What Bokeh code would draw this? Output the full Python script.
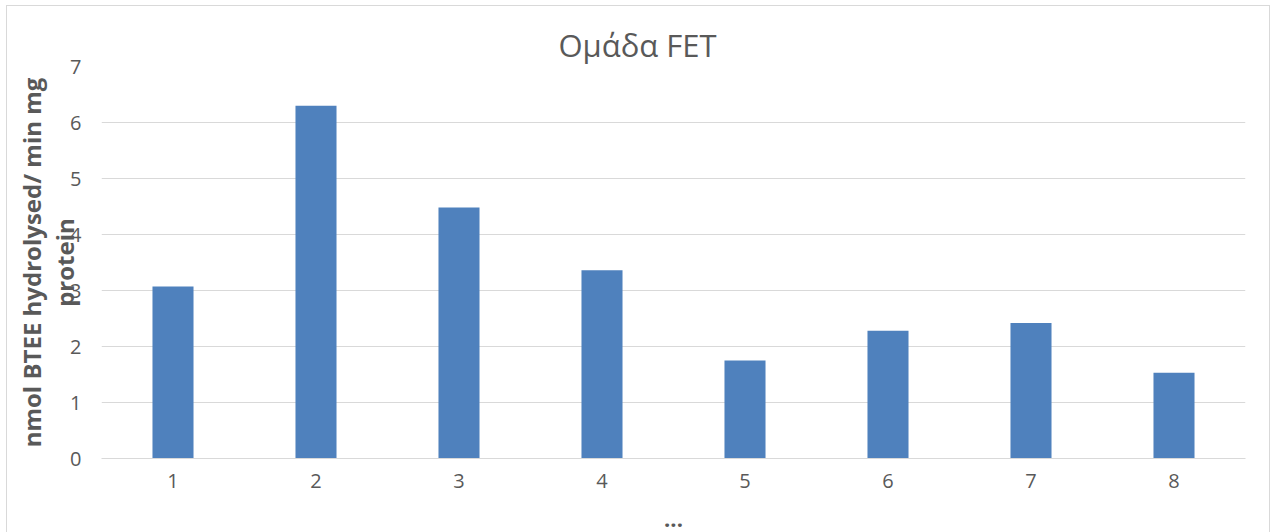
from bokeh.plotting import figure
from bokeh.models import Range1d, FixedTicker
from bokeh.embed import file_html
from bokeh.resources import INLINE

# Data
categories = ["1", "2", "3", "4", "5", "6", "7", "8"]
values = [3.07, 6.30, 4.48, 3.36, 1.75, 2.28, 2.42, 1.53]
y_ticks = [0, 1, 2, 3, 4, 5, 6, 7]

title_text = "Ομάδα FET"
y_label_lines = ["nmol BTEE hydrolysed/ min mg", "protein"]
x_label_text = "..."

TEXT = "#595959"
GRID = "#d9d9d9"
BAR = "#4f81bd"
FONT = "Open Sans"

xs = [i + 0.5 for i in range(len(categories))]

W, H = 1264, 540
p = figure(
    width=W, height=H,
    x_range=Range1d(0, len(categories)), y_range=Range1d(0, 7),
    output_backend="svg", toolbar_location=None,
    min_border_left=94, min_border_right=26, min_border_top=60, min_border_bottom=88,
    background_fill_color="white", border_fill_color="white",
    margin=(5, 0, 0, 6),
    styles={"border": "1px solid #d9d9d9"},
)
p.outline_line_color = None

p.vbar(x=xs, top=values, bottom=0, width=0.287, fill_color=BAR, line_color=None)

# Title, centred on the whole chart rather than the plot area
p.title.text = title_text
p.title.align = "left"
p.title.offset = 457
p.title.standoff = 2
p.title.text_font = FONT
p.title.text_font_size = "31px"
p.title.text_font_style = "normal"
p.title.text_color = TEXT

# X axis
p.xaxis.ticker = FixedTicker(ticks=xs)
p.xaxis.major_label_overrides = {x: c for x, c in zip(xs, categories)}
p.xaxis.axis_line_color = GRID
p.xaxis.major_tick_line_color = None
p.xaxis.minor_tick_line_color = None
p.xaxis.major_tick_out = 0
p.xaxis.minor_tick_out = 0
p.xaxis.major_label_text_font = FONT
p.xaxis.major_label_text_font_size = "20px"
p.xaxis.major_label_text_color = TEXT
p.xaxis.major_label_standoff = 15
p.xaxis.axis_label = x_label_text
p.xaxis.axis_label_text_font = FONT
p.xaxis.axis_label_text_font_size = "22px"
p.xaxis.axis_label_text_font_style = "bold"
p.xaxis.axis_label_text_color = TEXT
p.xaxis.axis_label_standoff = 21

# Y axis
p.yaxis.ticker = FixedTicker(ticks=y_ticks)
p.yaxis.axis_line_color = None
p.yaxis.major_tick_line_color = None
p.yaxis.minor_tick_line_color = None
p.yaxis.major_tick_out = 0
p.yaxis.minor_tick_out = 0
p.yaxis.major_label_text_font = FONT
p.yaxis.major_label_text_font_size = "20px"
p.yaxis.major_label_text_color = TEXT
p.yaxis.major_label_standoff = 20
p.yaxis.axis_label = "\n".join(y_label_lines)
p.yaxis.axis_label_text_font = FONT
p.yaxis.axis_label_text_font_size = "24px"
p.yaxis.axis_label_text_font_style = "bold"
p.yaxis.axis_label_text_color = TEXT
p.yaxis.axis_label_text_line_height = 1.0
p.yaxis.axis_label_standoff = -14

p.xgrid.grid_line_color = None
p.ygrid.ticker = FixedTicker(ticks=y_ticks)
p.ygrid.grid_line_color = GRID
p.ygrid.grid_line_width = 1

open("out.html", "w").write(file_html(p, INLINE))
